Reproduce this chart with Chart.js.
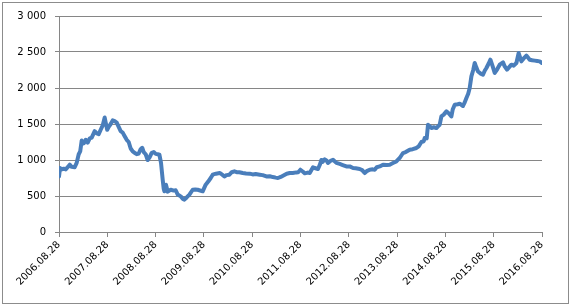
<!DOCTYPE html>
<html><head><meta charset="utf-8">
<script src="https://cdn.jsdelivr.net/npm/chart.js@4/dist/chart.umd.min.js"></script>
<style>
html,body{margin:0;padding:0;background:#fff;}
#wrap{position:relative;width:572px;height:307px;}
#frame{position:absolute;left:2px;top:2px;width:567px;height:302px;border:1px solid #8c8c8c;box-sizing:border-box;}
canvas{position:absolute;left:0;top:0;}
</style></head>
<body>
<div id="wrap"><div id="frame"></div><canvas id="c" width="572" height="307"></canvas></div>
<script>
// years elapsed since 2006.08.28
const yearsSinceStart = [0,0.021,0.056,0.097,0.139,0.180,0.222,0.263,0.325,0.366,0.408,0.439,0.470,0.511,0.553,0.594,0.636,0.677,0.739,0.781,0.822,0.863,0.905,0.946,0.967,0.998,1.029,1.070,1.112,1.153,1.195,1.236,1.277,1.319,1.360,1.402,1.443,1.484,1.526,1.567,1.609,1.650,1.691,1.723,1.754,1.795,1.836,1.878,1.919,1.961,2.002,2.043,2.079,2.112,2.147,2.168,2.182,2.215,2.251,2.313,2.375,2.416,2.458,2.520,2.561,2.596,2.644,2.700,2.768,2.820,2.872,2.975,3.037,3.089,3.141,3.182,3.251,3.327,3.348,3.424,3.472,3.528,3.576,3.631,3.679,3.735,3.803,3.872,3.948,4.010,4.072,4.155,4.217,4.294,4.362,4.431,4.487,4.534,4.590,4.638,4.714,4.776,4.838,4.915,4.952,4.998,5.046,5.087,5.149,5.191,5.259,5.294,5.362,5.398,5.433,5.460,5.501,5.542,5.569,5.625,5.673,5.743,5.812,5.874,5.950,6.019,6.087,6.143,6.226,6.277,6.329,6.371,6.433,6.495,6.536,6.578,6.640,6.708,6.784,6.847,6.915,6.985,7.054,7.122,7.178,7.261,7.323,7.400,7.447,7.503,7.551,7.571,7.613,7.640,7.675,7.710,7.758,7.814,7.851,7.882,7.917,7.965,8.021,8.068,8.124,8.151,8.193,8.255,8.296,8.364,8.400,8.435,8.472,8.503,8.538,8.576,8.607,8.638,8.675,8.731,8.778,8.814,8.849,8.896,8.932,8.979,9.021,9.072,9.124,9.193,9.228,9.275,9.321,9.366,9.414,9.470,9.517,9.549,9.573,9.621,9.677,9.714,9.745,9.797,9.849,9.901,9.952,10.0];
const values = [772,890,870,880,870,900,935,905,900,960,1080,1120,1270,1230,1280,1240,1300,1310,1400,1370,1360,1420,1480,1590,1520,1420,1460,1500,1550,1540,1520,1460,1400,1380,1330,1280,1250,1160,1120,1100,1080,1090,1150,1170,1110,1080,1000,1040,1100,1110,1085,1080,1073,960,726,600,565,657,560,587,575,580,520,495,460,450,480,518,587,590,587,565,657,700,750,796,810,819,812,772,790,796,830,842,830,830,820,813,810,800,805,796,790,772,775,763,755,750,765,782,810,819,820,828,830,865,840,815,825,819,900,889,875,930,1000,975,1010,990,958,990,1004,960,945,930,911,911,889,885,875,860,819,845,865,870,865,900,911,935,930,935,958,980,1028,1097,1110,1143,1150,1167,1190,1250,1260,1306,1300,1490,1470,1444,1455,1444,1470,1490,1606,1630,1675,1650,1606,1700,1768,1775,1782,1750,1800,1861,1920,2000,2161,2250,2347,2290,2230,2200,2185,2240,2278,2340,2393,2300,2208,2260,2324,2356,2300,2254,2290,2324,2310,2347,2486,2420,2370,2410,2449,2420,2393,2385,2380,2375,2370,2347];
const tickLabels = ['2006.08.28','2007.08.28','2008.08.28','2009.08.28','2010.08.28','2011.08.28','2012.08.28','2013.08.28','2014.08.28','2015.08.28','2016.08.28'];
const yTicks = [0,500,1000,1500,2000,2500,3000];

const points = yearsSinceStart.map((t,i)=>({x:t,y:values[i]}));
const gridColor = '#868686';
const fontSpec = {family:'DejaVu Sans', size:10};

new Chart(document.getElementById('c'), {
  type:'line',
  data:{datasets:[{data:points, borderColor:'#4A7EBB', borderWidth:4, pointRadius:0, tension:0, fill:false, borderJoinStyle:'round', borderCapStyle:'round'}]},
  options:{
    responsive:false, animation:false,
    layout:{padding:{left:0,right:30,top:16,bottom:0}},
    plugins:{legend:{display:false},tooltip:{enabled:false}},
    scales:{
      x:{type:'linear', min:0, max:10,
        afterBuildTicks:(s)=>{s.ticks = tickLabels.map((_,i)=>({value:i}));},
        ticks:{color:'#000', font:fontSpec, maxRotation:45, minRotation:45, autoSkip:false, padding:2,
          callback:(v)=>tickLabels[Math.round(v)]},
        grid:{drawOnChartArea:false, drawTicks:true, tickLength:5, color:gridColor},
        border:{display:true, color:gridColor, width:1},
        afterFit:(s)=>{s.height=75;}
      },
      y:{min:0, max:3000,
        afterBuildTicks:(s)=>{s.ticks = yTicks.map(v=>({value:v}));},
        ticks:{color:'#000', font:fontSpec, padding:9,
          callback:(v)=>v>=1000? (Math.floor(v/1000)+' '+String(v%1000).padStart(3,'0')) : String(v)},
        grid:{color:gridColor, lineWidth:1, tickLength:4},
        border:{display:true, color:gridColor, width:1},
        afterFit:(s)=>{s.width=59;}
      }
    }
  }
});
</script>
</body></html>
